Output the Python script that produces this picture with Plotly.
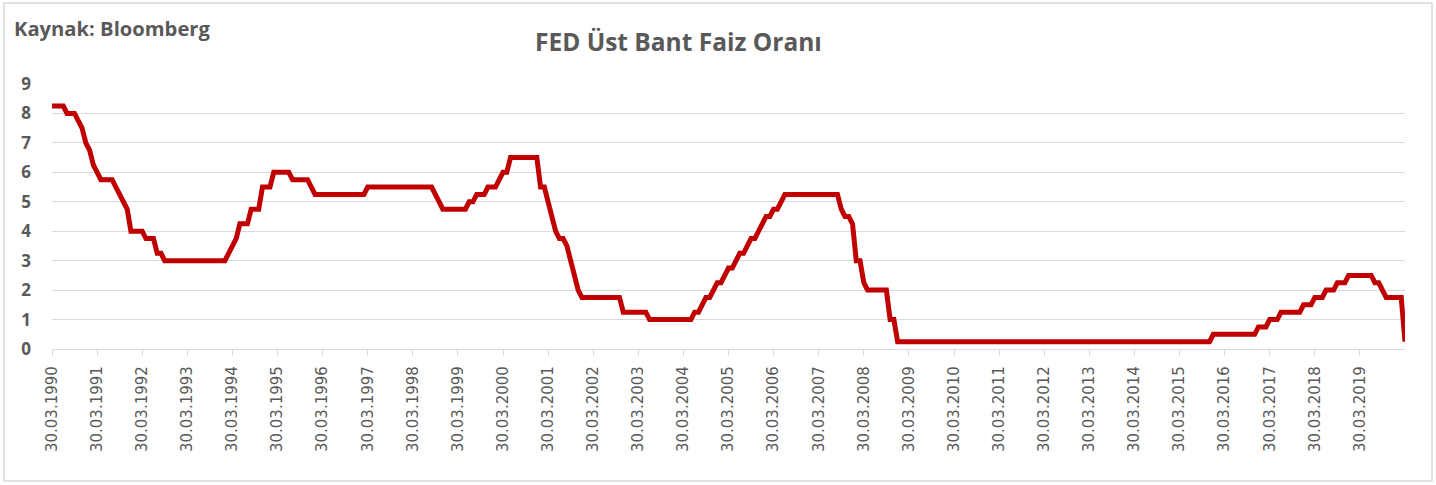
import plotly.graph_objects as go

# Monthly (month-end) FED upper-bound rate, 03.1990 - 03.2020
rate_1990 = [8.25, 8.25, 8.25, 8.25, 8.00, 8.00, 8.00, 7.75, 7.50, 7.00]  # Mar-Dec
rate_1991 = [6.75, 6.25, 6.00, 5.75, 5.75, 5.75, 5.75, 5.50, 5.25, 5.00, 4.75, 4.00]
rate_1992 = [4.00, 4.00, 4.00, 3.75, 3.75, 3.75, 3.25, 3.25, 3.00, 3.00, 3.00, 3.00]
rate_1993 = [3.00] * 12
rate_1994 = [3.00, 3.25, 3.50, 3.75, 4.25, 4.25, 4.25, 4.75, 4.75, 4.75, 5.50, 5.50]
rate_1995 = [5.50, 6.00, 6.00, 6.00, 6.00, 6.00, 5.75, 5.75, 5.75, 5.75, 5.75, 5.50]
rate_1996 = [5.25] * 12
rate_1997 = [5.25, 5.25, 5.50, 5.50, 5.50, 5.50, 5.50, 5.50, 5.50, 5.50, 5.50, 5.50]
rate_1998 = [5.50, 5.50, 5.50, 5.50, 5.50, 5.50, 5.50, 5.50, 5.25, 5.00, 4.75, 4.75]
rate_1999 = [4.75, 4.75, 4.75, 4.75, 4.75, 5.00, 5.00, 5.25, 5.25, 5.25, 5.50, 5.50]
rate_2000 = [5.50, 5.75, 6.00, 6.00, 6.50, 6.50, 6.50, 6.50, 6.50, 6.50, 6.50, 6.50]
rate_2001 = [5.50, 5.50, 5.00, 4.50, 4.00, 3.75, 3.75, 3.50, 3.00, 2.50, 2.00, 1.75]
rate_2002 = [1.75, 1.75, 1.75, 1.75, 1.75, 1.75, 1.75, 1.75, 1.75, 1.75, 1.25, 1.25]
rate_2003 = [1.25, 1.25, 1.25, 1.25, 1.25, 1.00, 1.00, 1.00, 1.00, 1.00, 1.00, 1.00]
rate_2004 = [1.00, 1.00, 1.00, 1.00, 1.00, 1.25, 1.25, 1.50, 1.75, 1.75, 2.00, 2.25]
rate_2005 = [2.25, 2.50, 2.75, 2.75, 3.00, 3.25, 3.25, 3.50, 3.75, 3.75, 4.00, 4.25]
rate_2006 = [4.50, 4.50, 4.75, 4.75, 5.00, 5.25, 5.25, 5.25, 5.25, 5.25, 5.25, 5.25]
rate_2007 = [5.25, 5.25, 5.25, 5.25, 5.25, 5.25, 5.25, 5.25, 4.75, 4.50, 4.50, 4.25]
rate_2008 = [3.00, 3.00, 2.25, 2.00, 2.00, 2.00, 2.00, 2.00, 2.00, 1.00, 1.00, 0.25]
rate_2009 = [0.25] * 12
rate_2010 = [0.25] * 12
rate_2011 = [0.25] * 12
rate_2012 = [0.25] * 12
rate_2013 = [0.25] * 12
rate_2014 = [0.25] * 12
rate_2015 = [0.25, 0.25, 0.25, 0.25, 0.25, 0.25, 0.25, 0.25, 0.25, 0.25, 0.25, 0.50]
rate_2016 = [0.50, 0.50, 0.50, 0.50, 0.50, 0.50, 0.50, 0.50, 0.50, 0.50, 0.50, 0.75]
rate_2017 = [0.75, 0.75, 1.00, 1.00, 1.00, 1.25, 1.25, 1.25, 1.25, 1.25, 1.25, 1.50]
rate_2018 = [1.50, 1.50, 1.75, 1.75, 1.75, 2.00, 2.00, 2.00, 2.25, 2.25, 2.25, 2.50]
rate_2019 = [2.50, 2.50, 2.50, 2.50, 2.50, 2.50, 2.25, 2.25, 2.00, 1.75, 1.75, 1.75]
rate_2020 = [1.75, 1.75, 0.25]  # Jan-Mar

tick_years = list(range(1990, 2020))
tick_labels = ["30.03.%d" % y for y in tick_years]

rates = (rate_1990 + rate_1991 + rate_1992 + rate_1993 + rate_1994 + rate_1995 +
         rate_1996 + rate_1997 + rate_1998 + rate_1999 + rate_2000 + rate_2001 +
         rate_2002 + rate_2003 + rate_2004 + rate_2005 + rate_2006 + rate_2007 +
         rate_2008 + rate_2009 + rate_2010 + rate_2011 + rate_2012 + rate_2013 +
         rate_2014 + rate_2015 + rate_2016 + rate_2017 + rate_2018 + rate_2019 +
         rate_2020)
months = list(range(len(rates)))
tick_vals = [12 * i for i in range(len(tick_years))]

W, H = 1436, 485
L, R, T, B = 52, 31, 84, 136
pw, ph = W - L - R, H - T - B

def px(x):
    return (x - L) / pw

def py(y):
    return (H - B - y) / ph

grey = "#595959"
fig = go.Figure()
fig.add_trace(go.Scatter(
    x=months, y=rates, mode="lines",
    line=dict(color="#c00000", width=5),
    cliponaxis=False, hoverinfo="y",
))

fig.update_layout(
    width=W, height=H,
    margin=dict(l=L, r=R, t=T, b=B),
    paper_bgcolor="white", plot_bgcolor="white",
    showlegend=False,
    xaxis=dict(
        range=[0, len(rates) - 1],
        tickmode="array", tickvals=tick_vals, ticktext=tick_labels,
        tickangle=-90,
        tickfont=dict(family="DejaVu Sans", size=15, color=grey),
        showgrid=False, zeroline=False,
        showline=True, linecolor="#d9d9d9", linewidth=1.3,
        ticks="outside", ticklen=6, tickcolor="#d9d9d9", tickwidth=1.3,
        ticklabelstandoff=4,
    ),
    yaxis=dict(
        range=[0, 9], dtick=1, tick0=0,
        tickfont=dict(family="Open Sans", size=17, color=grey, weight="bold"),
        showgrid=True, gridcolor="#d9d9d9", gridwidth=1.3,
        zeroline=False, showline=False,
        ticks="", ticklabelstandoff=20,
    ),
    shapes=[dict(
        type="rect", xref="paper", yref="paper",
        x0=px(4), x1=px(1432), y0=py(481), y1=py(3),
        line=dict(color="#d9d9d9", width=1.5), fillcolor="rgba(0,0,0,0)",
        layer="below",
    )],
    annotations=[
        dict(text="<b>FED Üst Bant Faiz Oranı</b>", xref="paper", yref="paper",
             x=px(678), y=py(41), xanchor="center", yanchor="middle",
             showarrow=False, font=dict(family="Open Sans", size=24.5, color=grey)),
        dict(text="<b>Kaynak: Bloomberg</b>", xref="paper", yref="paper",
             x=px(12), y=py(28), xanchor="left", yanchor="middle",
             showarrow=False, font=dict(family="Open Sans", size=20.2, color=grey)),
    ],
)

fig.write_html("out.html",
               config={"displayModeBar": False},
               post_script="document.body.style.margin='0';document.body.style.overflow='hidden';")
